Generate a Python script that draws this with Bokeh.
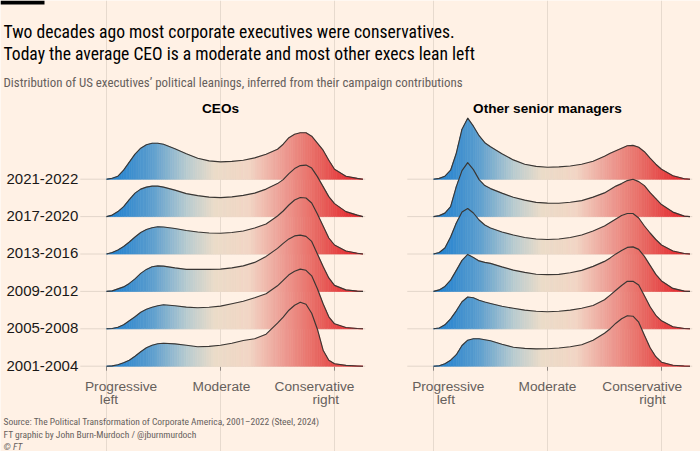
import numpy as np
from bokeh.plotting import figure
from bokeh.models import Range1d, Grid, FixedTicker, ColumnDataSource
from bokeh.core.properties import value
from bokeh.embed import file_html
from bokeh.resources import INLINE

# ---------------- data ----------------
PERIODS = ["2001-2004", "2005-2008", "2009-2012", "2013-2016", "2017-2020", "2021-2022"]
PANEL_TITLES = ["CEOs", "Other senior managers"]
TICKS = [-1.0, 0.0, 1.0]
TICK_LINE1 = ["Progressive", "Moderate", "Conservative"]
TICK_LINE2 = ["left", "", "right"]

# political leaning positions (-1 = progressive left, 0 = moderate, 1 = conservative right)
X = [-1.0, -0.95, -0.9, -0.85, -0.8, -0.75, -0.7, -0.65, -0.6, -0.55, -0.5,
     -0.4, -0.3, -0.2, -0.1, 0.0, 0.1, 0.2, 0.3, 0.4,
     0.5, 0.55, 0.6, 0.65, 0.7, 0.75, 0.8, 0.85, 0.9, 0.95, 1.0, 1.1, 1.2, 1.25]

# relative density of each distribution
CEO_2001_2004 = [0, 0.3, 1.5, 3.5, 6, 10, 14.5, 18.5, 21, 22.5, 23,
                 22.3, 21, 19.5, 19.8, 21, 23, 25.7, 27.5, 32,
                 43, 49, 56, 61, 64, 62, 53, 37, 16, 6, 2.5, 0.8, 0.2, 0]
CEO_2005_2008 = [0, 0.3, 1.5, 4, 8, 12, 16.5, 19.5, 21.5, 23, 24,
                 23, 21.7, 21, 21.5, 22.7, 25, 27.5, 31, 35,
                 43, 48.5, 54, 57.5, 59.7, 58.5, 53, 40, 25, 12, 5, 1.3, 0.3, 0]
CEO_2009_2012 = [0, 0.5, 2.5, 4.5, 8, 12.5, 18, 22, 24.7, 25.5, 25.3,
                 23.5, 22, 22, 22, 22.3, 23.5, 25.5, 29, 35,
                 43, 48, 52.5, 55.5, 56.3, 55, 50, 37.5, 25, 13.5, 6, 1.5, 0.3, 0]
CEO_2013_2016 = [0, 1.5, 4, 7.5, 12, 17, 21.5, 24.5, 26.3, 27.3, 27,
                 25.5, 23.5, 22, 21, 20.7, 21.5, 23, 26, 30,
                 38, 43, 49, 54, 56.5, 56, 51, 40, 28, 16, 9, 3, 0.8, 0]
CEO_2017_2020 = [0, 1.5, 5, 10, 17, 23.5, 27.5, 29.5, 30.5, 30.5, 29.5,
                 26.5, 23, 21, 19.5, 19, 19.7, 21.2, 23.5, 27.5,
                 33, 37, 43, 48, 51, 51.5, 48.5, 40, 30, 20, 13, 5, 1.5, 0]
CEO_2021_2022 = [0, 1, 3, 9, 17, 25, 31, 34.5, 36, 36, 35,
                 30.5, 25.5, 21, 18.3, 17.3, 17.8, 19, 21.3, 25,
                 30, 35, 41.5, 45, 46.5, 46.5, 43, 36, 29, 19, 10, 3, 0.8, 0]

OTHER_2001_2004 = [0, 0.5, 2.5, 6, 11.5, 20.7, 26, 27.5, 27.5, 26.5, 25.5,
                   22, 19, 17.8, 17.3, 17.5, 18.2, 19.5, 21.5, 26,
                   33, 37.5, 43, 47.5, 50.5, 50, 44, 31, 18.5, 9.5, 4, 1, 0.2, 0]
OTHER_2005_2008 = [0, 0.8, 4, 10, 18, 27, 31.8, 31, 28.5, 26.8, 25.3,
                   22.5, 20.5, 18.7, 17.5, 17, 17.5, 18.7, 20.5, 23.3,
                   29, 33.7, 38.5, 43.3, 47.5, 47.5, 43.7, 33, 22, 13.5, 8, 2, 0.3, 0]
OTHER_2009_2012 = [0, 1.5, 5, 11.3, 21, 31, 37, 34, 30.5, 29, 28,
                   24.5, 21.3, 19, 17.2, 16.8, 17, 18.7, 21, 25,
                   30, 33.5, 37.5, 41, 44, 44.5, 42, 35, 26, 17, 10.5, 3, 0.3, 0]
OTHER_2013_2016 = [0, 1.5, 6, 17, 31, 42, 45.5, 41, 34, 29, 26,
                   22, 19, 16.5, 15, 14.5, 15, 16.5, 19, 23,
                   28, 31.5, 35, 38.5, 40.5, 40.5, 36, 28, 21, 14.5, 9, 3, 0.5, 0]
OTHER_2017_2020 = [0, 1, 3.5, 10, 30, 46, 54, 47, 37, 31, 28,
                   23.5, 19.3, 16.5, 14.2, 13.5, 13.3, 14.3, 16, 19.5,
                   23.7, 27, 30.5, 33, 36, 37.3, 35, 31, 24, 18, 12, 4.5, 0.5, 0]
OTHER_2021_2022 = [0, 0.8, 3, 9, 26, 50, 61, 53, 43.5, 36.5, 32.5,
                   25.5, 19.3, 15, 12.8, 12, 12.3, 13.2, 15, 18,
                   23, 26, 28.5, 31, 33.5, 33.8, 32, 27.5, 21, 15, 10, 3.5, 0.5, 0]

CEO_SERIES = [CEO_2001_2004, CEO_2005_2008, CEO_2009_2012,
              CEO_2013_2016, CEO_2017_2020, CEO_2021_2022]
OTHER_SERIES = [OTHER_2001_2004, OTHER_2005_2008, OTHER_2009_2012,
                OTHER_2013_2016, OTHER_2017_2020, OTHER_2021_2022]

# ---------------- style / layout ----------------
BG = "#fff1e5"
GRID_C = "#e7dace"
BASE_C = "#e3d6ca"
TICK_C = "#8c8580"
OUTLINE_C = "#3a3633"
TEXT_C = "#000000"
GREY_C = "#66605c"
NARROW = "'Liberation Sans Narrow', 'Noto Sans Condensed', 'Roboto Condensed', 'DejaVu Sans Condensed', Roboto, sans-serif"
SANS = "Liberation Sans"
STOPS = [(-1.0, "#1a7ed0"), (-0.6, "#5c9ecf"), (-0.3, "#b7cbd0"), (-0.05, "#ebdcc9"),
         (0.25, "#f2d6c5"), (0.5, "#eea69c"), (0.85, "#e86862"), (1.2, "#e3232a")]

PX_PER_UNIT = 114.0          # horizontal pixels per leaning unit
LEFT_ZERO_PX = 220.0         # page x of "Moderate" in the CEO panel
RIGHT_ZERO_PX = 547.0        # page x of "Moderate" in the right panel
BOTTOM_BASE_PX = 365.7       # page y of the lowest ridge baseline
RIDGE_STEP = 37.4            # vertical distance between ridges (px == data units)
W, H = 700, 451
OFFSET = (RIGHT_ZERO_PX - LEFT_ZERO_PX) / PX_PER_UNIT
PANEL_OFFSETS = [0.0, OFFSET]
BASE_SPAN = (-1.23, 1.27)
GRID_TOP = BOTTOM_BASE_PX - 116.7
TICK_LEN = 4.5


def dx(px):
    return (px - LEFT_ZERO_PX) / PX_PER_UNIT


def dy(py):
    return BOTTOM_BASE_PX - py


def hex_to_rgb(h):
    h = h.lstrip("#")
    return [int(h[i:i + 2], 16) for i in (0, 2, 4)]


STOP_X = [s[0] for s in STOPS]
STOP_RGB = np.array([hex_to_rgb(s[1]) for s in STOPS], dtype=float)


def grad(x):
    r = np.interp(x, STOP_X, STOP_RGB[:, 0])
    g = np.interp(x, STOP_X, STOP_RGB[:, 1])
    b = np.interp(x, STOP_X, STOP_RGB[:, 2])
    return "#%02x%02x%02x" % (int(round(r)), int(round(g)), int(round(b)))


p = figure(width=W, height=H,
           x_range=Range1d(dx(0), dx(W)),
           y_range=Range1d(dy(H), dy(0)),
           output_backend="svg", toolbar_location=None,
           x_axis_location=None, y_axis_location=None,
           min_border=0, outline_line_color=None,
           background_fill_color=BG, border_fill_color=BG)
p.xgrid.visible = False
p.ygrid.visible = False

# vertical grid lines at the tick positions of both panels
all_ticks = [t + off for off in PANEL_OFFSETS for t in TICKS]
p.add_layout(Grid(dimension=0, ticker=FixedTicker(ticks=all_ticks),
                  bounds=(0, GRID_TOP), grid_line_color=GRID_C, grid_line_width=1))

# tick marks below the lowest baseline
p.segment(x0=all_ticks, x1=all_ticks, y0=[0] * len(all_ticks),
          y1=[-TICK_LEN] * len(all_ticks), line_color=TICK_C, line_width=1)

# ridges: draw from the top (latest) to the bottom so lower ridges overlap upper ones
for i in reversed(range(len(PERIODS))):
    base = i * RIDGE_STEP
    for off, series in zip(PANEL_OFFSETS, [CEO_SERIES, OTHER_SERIES]):
        hs = series[i]
        p.segment(x0=[BASE_SPAN[0] + off], x1=[BASE_SPAN[1] + off],
                  y0=[base], y1=[base], line_color=BASE_C, line_width=1)
        xs_l, ys_l, cols = [], [], []
        for k in range(len(X) - 1):
            x0, x1, h0, h1 = X[k], X[k + 1], hs[k], hs[k + 1]
            n = max(1, int(round((x1 - x0) / 0.02)))
            for j in range(n):
                ta, tb = j / n, (j + 1) / n
                xa, xb = x0 + (x1 - x0) * ta, x0 + (x1 - x0) * tb
                ha, hb = h0 + (h1 - h0) * ta, h0 + (h1 - h0) * tb
                xs_l.append([xa + off, xb + off, xb + off, xa + off])
                ys_l.append([base, base, base + hb, base + ha])
                cols.append(grad((xa + xb) / 2))
        src = ColumnDataSource(dict(xs=xs_l, ys=ys_l, c=cols))
        p.patches(xs="xs", ys="ys", fill_color="c", line_color="c",
                  line_width=0.7, source=src)
        p.line(x=[v + off for v in X], y=[base + v for v in hs],
               line_color=OUTLINE_C, line_width=1.15, line_join="round")

# period labels
p.text(x=[dx(6)] * len(PERIODS), y=[i * RIDGE_STEP + 0.6 for i in range(len(PERIODS))],
       text=PERIODS, text_font=value(SANS), text_font_size="15px",
       text_color="#1a1817", text_align="left", text_baseline="alphabetic")

# axis labels (line offsets in px relative to the tick, per panel)
LINE1_SHIFT = [[14.6, 1.0, -20.0], [14.8, 0.0, -19.3]]
LINE2_SHIFT = [[2.5, 0.0, -8.7], [12.3, 0.0, -9.0]]
for pi, off in enumerate(PANEL_OFFSETS):
    p.text(x=[t + off + s / PX_PER_UNIT for t, s in zip(TICKS, LINE1_SHIFT[pi])],
           y=[dy(385.5)] * 3, text=TICK_LINE1, text_font=value(SANS),
           text_font_size="13.7px", text_color=GREY_C, text_align="center",
           text_baseline="alphabetic")
    p.text(x=[t + off + s / PX_PER_UNIT for t, s in zip(TICKS, LINE2_SHIFT[pi])],
           y=[dy(398.5)] * 3, text=TICK_LINE2, text_font=value(SANS),
           text_font_size="13.7px", text_color=GREY_C, text_align="center",
           text_baseline="alphabetic")

# panel titles
p.text(x=[0.0, OFFSET], y=[dy(108.3)] * 2, text=PANEL_TITLES,
       text_font=value(SANS), text_font_size="13.6px", text_font_style="bold",
       text_color=TEXT_C, text_align="center", text_baseline="alphabetic")

# header
p.quad(left=[dx(0)], right=[dx(44)], top=[dy(0)], bottom=[dy(4)],
       fill_color="#000000", line_color=None)
p.text(x=[dx(3)] * 2, y=[dy(31), dy(53.5)],
       text=["Two decades ago most corporate executives were conservatives.",
             "Today the average CEO is a moderate and most other execs lean left"],
       text_font=value(NARROW), text_font_size="17.6px", text_color=TEXT_C,
       text_align="left", text_baseline="alphabetic")
p.text(x=[dx(3)], y=[dy(81.7)],
       text=["Distribution of US executives\u2019 political leanings, inferred from their campaign contributions"],
       text_font=value(NARROW), text_font_size="12.9px", text_color=GREY_C,
       text_align="left", text_baseline="alphabetic")

# footer
p.text(x=[dx(3)] * 2, y=[dy(420.5), dy(434)],
       text=["Source: The Political Transformation of Corporate America, 2001\u20132022 (Steel, 2024)",
             "FT graphic by John Burn-Murdoch / @jburnmurdoch"],
       text_font=value(NARROW), text_font_size="9.5px", text_color=GREY_C,
       text_align="left", text_baseline="alphabetic")
p.text(x=[dx(3)], y=[dy(446)], text=["\u00a9 FT"],
       text_font=value(NARROW), text_font_size="9.5px", text_font_style="italic",
       text_color=GREY_C, text_align="left", text_baseline="alphabetic")

open("out.html", "w").write(file_html(p, INLINE))
